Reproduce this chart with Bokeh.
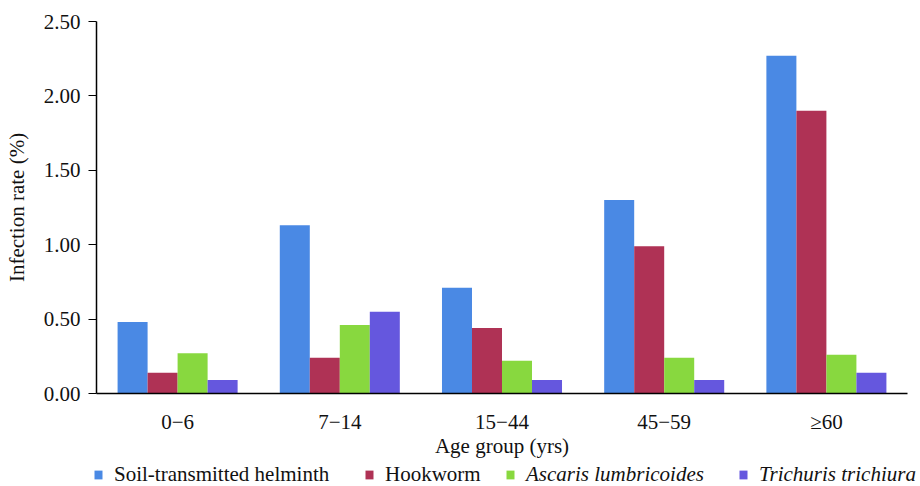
from bokeh.plotting import figure
from bokeh.models import ColumnDataSource, FixedTicker, NumeralTickFormatter, Legend, LegendItem, Range1d
from bokeh.layouts import column
from bokeh.transform import dodge
from bokeh.embed import file_html
from bokeh.resources import INLINE

groups = ["0\u22126", "7\u221214", "15\u221244", "45\u221259", "\u226560"]
series = ["Soil-transmitted helminth", "Hookworm", "Ascaris lumbricoides", "Trichuris trichiura"]
sth = [0.48, 1.13, 0.71, 1.30, 2.27]
hookworm = [0.14, 0.24, 0.44, 0.99, 1.90]
ascaris = [0.27, 0.46, 0.22, 0.24, 0.26]
trichuris = [0.09, 0.55, 0.09, 0.09, 0.14]
y_ticks = [0, 0.5, 1.0, 1.5, 2.0, 2.5]

colors = ["#4A89E4", "#AF3255", "#88D83F", "#6557DE"]
italic = [False, False, True, True]
FONT = "Liberation Serif, DejaVu Serif, serif"
TXT = "#111111"

src = ColumnDataSource(dict(g=groups, sth=sth, hw=hookworm, asc=ascaris, tri=trichuris))

p = figure(x_range=groups, y_range=Range1d(0, 2.5), width=920, height=462,
           output_backend="svg", toolbar_location=None,
           min_border_left=96, min_border_right=13, min_border_top=21, min_border_bottom=69)
p.x_range.range_padding = 0
p.frame_align = False

bw = 0.185
offs = [-1.5 * bw, -0.5 * bw, 0.5 * bw, 1.5 * bw]
for col, off, c in zip(["sth", "hw", "asc", "tri"], offs, colors):
    p.vbar(x=dodge("g", off, range=p.x_range), top=col, width=bw, source=src,
           fill_color=c, line_color=None)

p.xgrid.visible = False
p.ygrid.visible = False
p.outline_line_color = None

p.yaxis.ticker = FixedTicker(ticks=y_ticks)
p.yaxis.formatter = NumeralTickFormatter(format="0.00")
p.yaxis.minor_tick_line_color = None
p.yaxis.major_tick_in = 0
p.yaxis.major_tick_out = 8
p.yaxis.major_tick_line_color = "black"
p.yaxis.major_tick_line_width = 1.2
p.yaxis.axis_label = "Infection rate (%)"
p.xaxis.axis_label = "Age group (yrs)"
p.xaxis.major_tick_line_color = None
p.xaxis.minor_tick_line_color = None
p.xaxis.major_label_standoff = 10
p.xaxis.axis_label_standoff = -3
p.yaxis.axis_label_standoff = 12
p.yaxis.major_label_standoff = 8

for ax in (p.xaxis, p.yaxis):
    ax.axis_line_color = "black"
    ax.axis_line_width = 1.5
    ax.major_label_text_font = FONT
    ax.major_label_text_color = TXT
    ax.axis_label_text_font = FONT
    ax.axis_label_text_font_size = "21px"
    ax.axis_label_text_font_style = "normal"
    ax.axis_label_text_color = TXT
p.xaxis.major_label_text_font_size = "21px"
p.yaxis.major_label_text_font_size = "21px"

# legend strip
lp = figure(width=920, height=24, x_range=Range1d(0, 1), y_range=Range1d(0, 1),
            output_backend="svg", toolbar_location=None,
            min_border_left=0, min_border_right=0, min_border_top=0, min_border_bottom=0)
lp.frame_align = False
lp.axis.visible = False
lp.grid.visible = False
lp.outline_line_color = None

leg_x = [93, 364, 505, 738]
for name, c, it, lx in zip(series, colors, italic, leg_x):
    r = lp.vbar(x=[5], top=[5], bottom=[4], width=0.1, fill_color=c, line_color=None)
    lg = Legend(items=[LegendItem(label=name, renderers=[r])], location=(lx, -1))
    lg.label_text_font = FONT
    lg.label_text_font_size = "21px"
    lg.label_text_font_style = "italic" if it else "normal"
    lg.label_text_color = TXT
    lg.glyph_width = 10
    lg.glyph_height = 11
    lg.label_standoff = 11
    lg.padding = 0
    lg.margin = 0
    lg.border_line_color = None
    lg.background_fill_alpha = 0
    lp.add_layout(lg, "center")

layout = column(p, lp, spacing=0)
open("out.html", "w").write(file_html(layout, INLINE))
